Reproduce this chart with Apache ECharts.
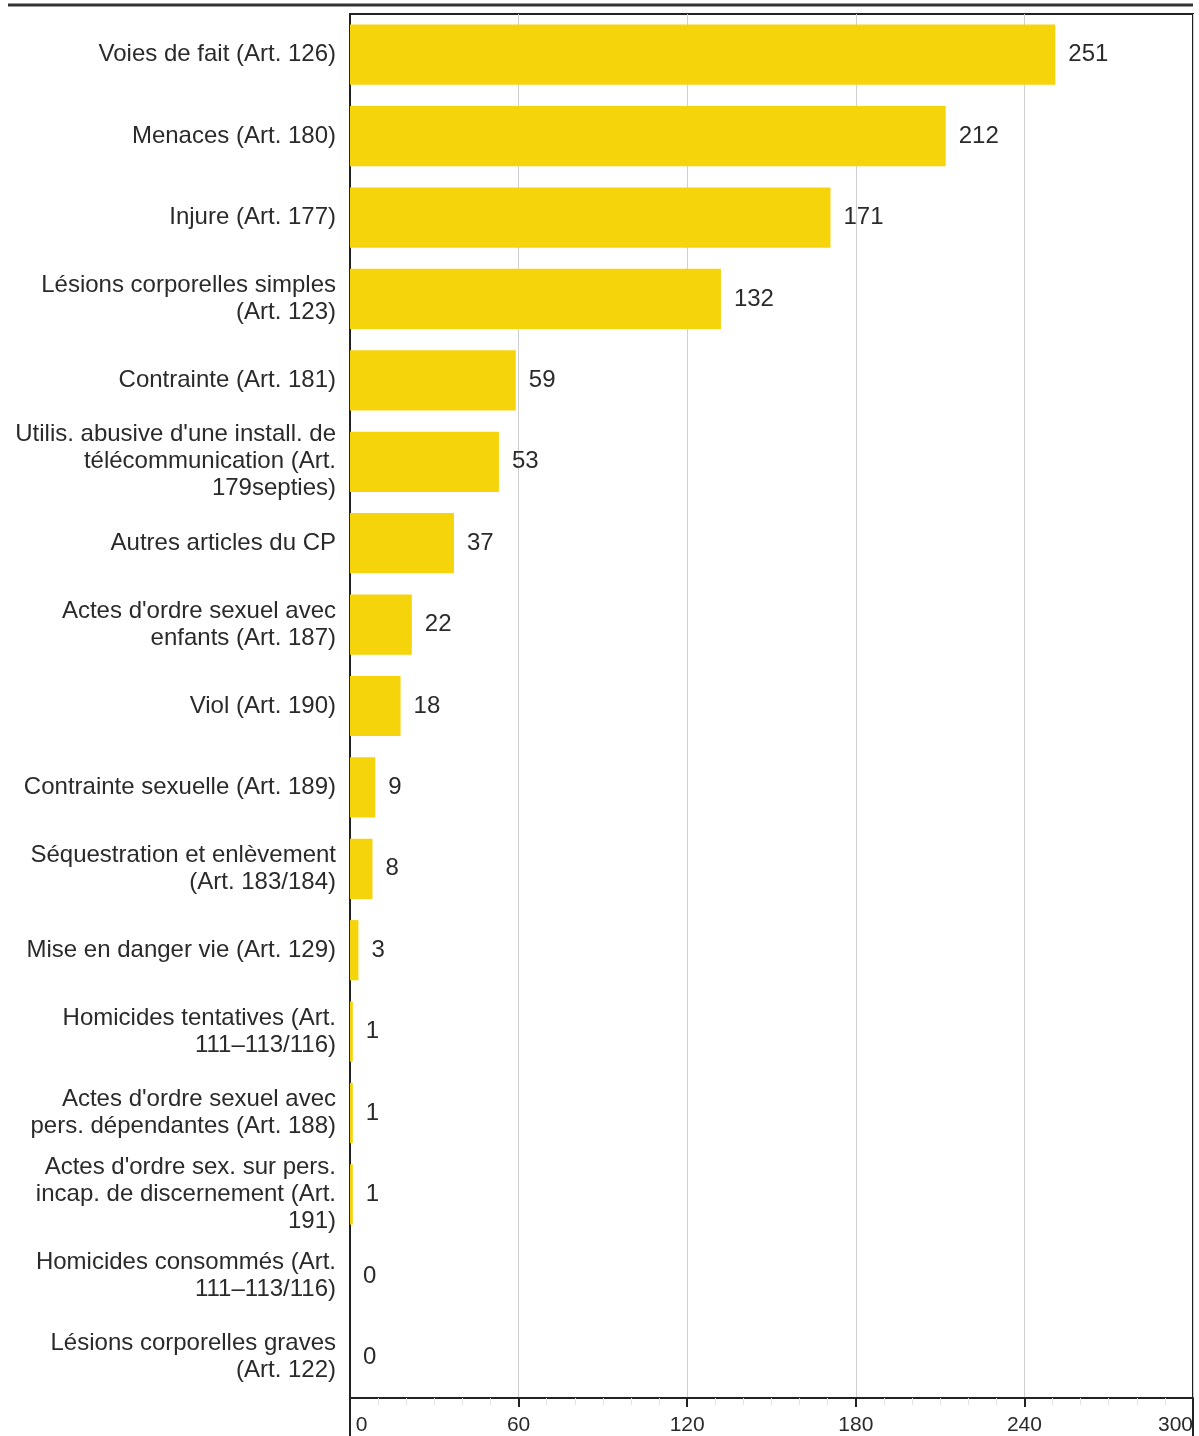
<!DOCTYPE html>
<html>
<head>
<meta charset="utf-8">
<script src="https://cdn.jsdelivr.net/npm/echarts@6/dist/echarts.min.js"></script>
<style>
html,body{margin:0;padding:0;background:#fff;}
#chart{width:1199px;height:1436px;}
</style>
</head>
<body>
<div id="chart"></div>
<script>
const categories = [
  "Voies de fait (Art. 126)",
  "Menaces (Art. 180)",
  "Injure (Art. 177)",
  "Lésions corporelles simples\n(Art. 123)",
  "Contrainte (Art. 181)",
  "Utilis. abusive d'une install. de\ntélécommunication (Art.\n179septies)",
  "Autres articles du CP",
  "Actes d'ordre sexuel avec\nenfants (Art. 187)",
  "Viol (Art. 190)",
  "Contrainte sexuelle (Art. 189)",
  "Séquestration et enlèvement\n(Art. 183/184)",
  "Mise en danger vie (Art. 129)",
  "Homicides tentatives (Art.\n111–113/116)",
  "Actes d'ordre sexuel avec\npers. dépendantes (Art. 188)",
  "Actes d'ordre sex. sur pers.\nincap. de discernement (Art.\n191)",
  "Homicides consommés (Art.\n111–113/116)",
  "Lésions corporelles graves\n(Art. 122)"
];
const values = [251, 212, 171, 132, 59, 53, 37, 22, 18, 9, 8, 3, 1, 1, 1, 0, 0];
const xTicks = [0, 60, 120, 180, 240, 300];

const chart = echarts.init(document.getElementById('chart'), null, {renderer: 'canvas'});
const font = "Arial, 'Liberation Sans', sans-serif";
chart.setOption({
  animation: false,
  textStyle: {fontFamily: font},
  grid: {
    left: 350, right: 6, top: 14, bottom: 37,
    show: true, borderColor: '#222', borderWidth: 2, backgroundColor: 'transparent'
  },
  xAxis: {
    type: 'value',
    min: xTicks[0],
    max: xTicks[xTicks.length - 1],
    interval: 60,
    axisLine: {show: true, lineStyle: {color: '#222', width: 2}},
    axisTick: {show: true, length: 9, lineStyle: {color: '#222', width: 2}},
    minorTick: {show: true, splitNumber: 6, length: 7, lineStyle: {color: '#e2e2e2', width: 1}},
    splitLine: {show: true, lineStyle: {color: '#cfcfcf', width: 1}},
    axisLabel: {
      fontSize: 21, color: '#2a2a2a', margin: 17, fontFamily: font,
      alignMinLabel: 'left', alignMaxLabel: 'right',
      formatter: function (v) { return v === 0 ? ' 0' : String(v); }
    }
  },
  yAxis: {
    type: 'category',
    inverse: true,
    data: categories,
    axisLine: {show: true, lineStyle: {color: '#222', width: 2}},
    axisTick: {show: false},
    axisLabel: {fontSize: 24, lineHeight: 27, color: '#2a2a2a', margin: 14, fontFamily: font, align: 'right'}
  },
  series: [{
    type: 'bar',
    data: values,
    barCategoryGap: '26%',
    itemStyle: {color: '#F6D40C'},
    label: {show: true, position: 'right', distance: 13, fontSize: 24, color: '#2a2a2a', fontFamily: font}
  }],
  graphic: [
    {type: 'line', shape: {x1: 8, y1: 5, x2: 1193, y2: 5}, style: {stroke: '#333', lineWidth: 3}, z: 100},
    {type: 'line', shape: {x1: 350, y1: 1399, x2: 350, y2: 1436}, style: {stroke: '#222', lineWidth: 2}, z: 100},
    {type: 'line', shape: {x1: 1193, y1: 1399, x2: 1193, y2: 1436}, style: {stroke: '#222', lineWidth: 2}, z: 100}
  ]
});
</script>
</body>
</html>
